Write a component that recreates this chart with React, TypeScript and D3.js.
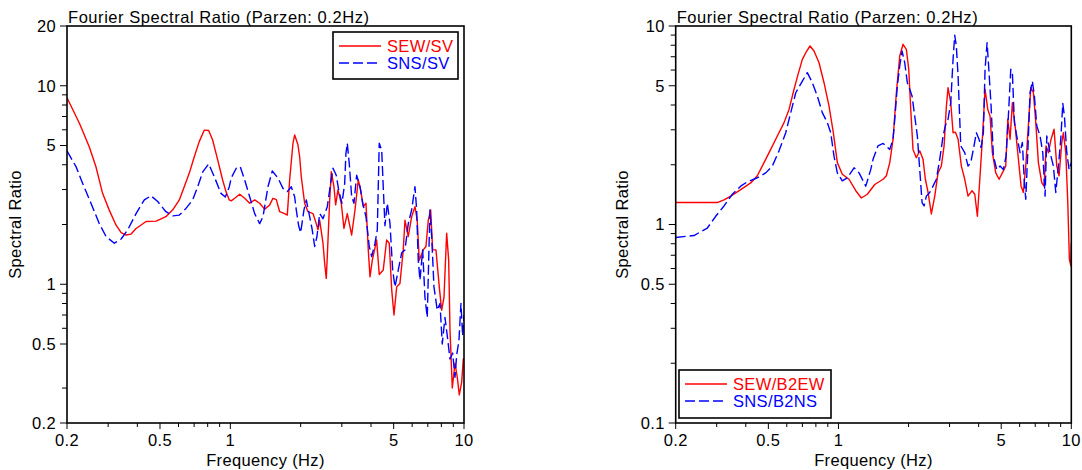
import React from 'react';
import * as d3 from 'd3';

type Pt = [number, number];

const xTickLabels = [0.2, 0.5, 1, 5, 10];
const xMinorTicks = [0.3, 0.4, 0.6, 0.7, 0.8, 0.9, 2, 3, 4, 6, 7, 8, 9];
const leftYLabels = [0.2, 0.5, 1, 5, 10, 20];
const leftYMinor = [0.3, 0.6, 0.7, 0.8, 0.9, 2, 3, 4, 6, 7, 8, 9];
const rightYLabels = [0.1, 0.5, 1, 5, 10];
const rightYMinor = [0.2, 0.3, 0.4, 0.6, 0.7, 0.8, 0.9, 2, 3, 4, 6, 7, 8, 9];

const titleText = 'Fourier Spectral Ratio (Parzen: 0.2Hz)';
const leftNames = ['SEW/SV', 'SNS/SV'];
const rightNames = ['SEW/B2EW', 'SNS/B2NS'];

const leftEW: Pt[] = [[0.2,8.7],[0.226,6.47],[0.249,4.93],[0.266,3.91],[0.284,2.87],[0.303,2.37],[0.324,1.99],[0.341,1.82],[0.358,1.77],[0.376,1.79],[0.395,1.91],[0.436,2.07],[0.481,2.08],[0.53,2.19],[0.567,2.37],[0.605,2.66],[0.635,3.1],[0.667,3.62],[0.701,4.39],[0.736,5.23],[0.774,5.98],[0.808,5.95],[0.84,5.33],[0.883,4.23],[0.927,3.35],[0.958,2.93],[0.99,2.66],[1.009,2.63],[1.044,2.71],[1.097,2.84],[1.152,2.71],[1.21,2.56],[1.271,2.66],[1.335,2.56],[1.403,2.39],[1.474,2.51],[1.522,2.71],[1.573,2.67],[1.626,2.32],[1.708,2.27],[1.753,2.23],[1.794,3.35],[1.854,5.13],[1.885,5.65],[1.947,5.04],[1.98,4.39],[2.012,3.48],[2.08,2.56],[2.149,2.32],[2.258,2.27],[2.332,2.02],[2.372,1.88],[2.412,2.1],[2.492,1.61],[2.534,1.27],[2.574,1.07],[2.6,1.38],[2.662,2.66],[2.704,3.69],[2.776,3.1],[2.823,2.51],[2.888,2.99],[2.984,2.56],[3.064,1.91],[3.166,2.27],[3.306,1.77],[3.416,2.37],[3.528,3.35],[3.612,2.99],[3.706,2.46],[3.806,2.56],[3.894,1.49],[3.96,1.09],[4.05,1.32],[4.228,1.67],[4.338,1.12],[4.512,1.18],[4.666,1.67],[4.788,1.61],[4.904,0.94],[5.016,0.7],[5.152,0.97],[5.32,1.01],[5.496,1.49],[5.59,2.1],[5.774,1.74],[5.97,2.19],[6.168,2.46],[6.308,2.1],[6.434,1.32],[6.692,1.49],[6.874,1.55],[7.032,2.1],[7.2,2.37],[7.344,1.49],[7.586,1.49],[7.838,0.97],[8.024,0.74],[8.21,0.86],[8.43,1.81],[8.598,1.32],[8.71,0.59],[8.91,0.3],[9.15,0.4],[9.36,0.34],[9.546,0.277],[9.772,0.32],[9.93,0.42],[10,0.42]];

const leftNS: Pt[] = [[0.2,4.7],[0.2186,3.91],[0.2334,3.22],[0.2533,2.56],[0.275,2.02],[0.2938,1.74],[0.3188,1.61],[0.341,1.69],[0.3638,1.88],[0.395,2.27],[0.4284,2.66],[0.4576,2.79],[0.4888,2.61],[0.53,2.32],[0.567,2.21],[0.605,2.23],[0.646,2.41],[0.69,2.66],[0.725,3.1],[0.762,3.68],[0.808,4.04],[0.854,3.48],[0.912,2.87],[0.952,2.75],[0.99,3.1],[1.009,3.43],[1.06,3.84],[1.103,3.91],[1.152,3.35],[1.21,2.76],[1.271,2.27],[1.335,2.02],[1.38,2.19],[1.449,3.1],[1.512,3.72],[1.599,3.43],[1.68,3.04],[1.753,2.93],[1.823,3.1],[1.885,2.76],[1.915,2.37],[1.961,1.97],[2.0,1.82],[2.066,2.37],[2.114,2.66],[2.164,2.32],[2.236,1.91],[2.296,1.55],[2.348,1.74],[2.412,2.27],[2.492,2.14],[2.6,2.46],[2.662,2.99],[2.75,3.84],[2.84,3.54],[2.908,2.99],[3.004,2.56],[3.086,3.22],[3.124,4.57],[3.166,5.13],[3.228,4.06],[3.306,2.76],[3.382,2.56],[3.472,3.54],[3.588,3.1],[3.684,2.56],[3.806,2.19],[3.932,1.55],[4.026,1.38],[4.16,1.61],[4.256,1.88],[4.338,5.13],[4.444,4.74],[4.512,3.1],[4.59,1.97],[4.696,2.56],[4.822,2.02],[4.952,1.18],[5.066,0.97],[5.234,1.18],[5.412,1.44],[5.59,1.49],[5.774,2.02],[5.97,2.37],[6.168,3.1],[6.272,2.37],[6.372,1.32],[6.48,1.05],[6.654,1.49],[6.806,0.86],[6.962,0.68],[7.15,2.37],[7.272,1.74],[7.438,0.97],[7.684,0.74],[7.892,0.8],[8.072,0.5],[8.292,0.68],[8.482,0.55],[8.71,0.42],[8.944,0.45],[9.15,0.34],[9.304,0.44],[9.514,0.52],[9.704,0.8],[9.868,0.55],[10,0.7]];

const rightEW: Pt[] = [[0.2,1.29],[0.3018,1.29],[0.3225,1.33],[0.3446,1.39],[0.3804,1.5],[0.42,1.62],[0.4484,1.76],[0.479,2.05],[0.5118,2.39],[0.5464,2.79],[0.5838,3.26],[0.6134,3.8],[0.6446,4.8],[0.6706,5.71],[0.6998,6.79],[0.7308,7.48],[0.755,7.93],[0.7854,7.48],[0.8252,6.53],[0.867,5.18],[0.911,3.95],[0.9506,2.9],[0.989,2.05],[1.039,1.79],[1.11,1.69],[1.187,1.48],[1.254,1.36],[1.331,1.42],[1.432,1.59],[1.555,1.69],[1.606,1.76],[1.661,2.05],[1.716,2.69],[1.773,4.61],[1.833,7.06],[1.894,8.09],[1.957,7.63],[2.004,6.05],[2.044,3.8],[2.09,2.39],[2.16,2.17],[2.234,2.35],[2.308,2.13],[2.362,1.69],[2.426,1.45],[2.506,1.13],[2.592,1.39],[2.678,1.82],[2.766,1.97],[2.842,2.49],[2.908,3.95],[2.956,4.89],[3.036,4.11],[3.106,2.9],[3.178,2.92],[3.264,2.69],[3.372,1.97],[3.486,1.69],[3.602,1.39],[3.748,1.48],[3.85,1.42],[3.95,1.1],[4.056,1.76],[4.15,2.69],[4.262,4.8],[4.378,3.8],[4.478,3.52],[4.582,2.3],[4.738,1.82],[4.896,1.69],[5.058,1.82],[5.23,1.97],[5.336,3.39],[5.458,2.69],[5.584,4.11],[5.736,3.14],[5.89,2.3],[6.086,1.56],[6.224,1.45],[6.374,1.97],[6.54,3.14],[6.698,4.89],[6.874,4.61],[7.038,3.26],[7.222,2.05],[7.47,1.62],[7.642,1.56],[7.794,2.49],[7.974,2.3],[8.188,2.69],[8.434,3.02],[8.662,1.97],[8.862,1.76],[9.102,2.59],[9.248,2.9],[9.47,2.3],[9.658,1.29],[9.812,0.67],[9.95,0.62],[10,0.81]];

const rightNS: Pt[] = [[0.2,0.86],[0.2396,0.88],[0.2734,0.96],[0.297,1.1],[0.3225,1.24],[0.3502,1.42],[0.3804,1.56],[0.406,1.64],[0.4484,1.72],[0.4872,1.82],[0.52,1.97],[0.5556,2.35],[0.5938,2.9],[0.6238,3.66],[0.6556,4.61],[0.6998,5.28],[0.735,5.82],[0.7724,5.18],[0.8114,4.44],[0.8526,3.66],[0.8958,3.26],[0.9264,2.9],[0.957,2.21],[0.989,1.82],[1.039,1.66],[1.092,1.72],[1.167,1.93],[1.226,1.82],[1.31,1.56],[1.376,1.89],[1.408,2.13],[1.479,2.49],[1.555,2.56],[1.661,2.39],[1.716,2.69],[1.745,3.39],[1.79,4.99],[1.833,6.29],[1.875,7.48],[1.926,6.53],[1.976,5.18],[2.024,4.8],[2.07,4.44],[2.126,3.52],[2.182,2.79],[2.234,1.89],[2.286,1.29],[2.332,1.24],[2.386,1.39],[2.466,1.45],[2.548,1.56],[2.634,1.69],[2.722,2.13],[2.814,2.79],[2.878,3.14],[2.956,3.39],[3.036,4.11],[3.106,6.79],[3.158,8.98],[3.208,7.93],[3.264,5.6],[3.352,2.49],[3.486,2.3],[3.602,1.97],[3.7,2.05],[3.822,2.49],[3.91,2.9],[4.016,2.69],[4.096,2.44],[4.192,2.9],[4.262,6.05],[4.348,8.24],[4.434,5.82],[4.524,3.95],[4.628,2.21],[4.786,1.89],[4.944,1.97],[5.108,1.89],[5.246,2.21],[5.368,3.52],[5.496,6.05],[5.584,5.82],[5.696,3.26],[5.832,2.79],[6.026,2.3],[6.164,2.59],[6.288,1.62],[6.374,1.34],[6.502,2.3],[6.652,4.61],[6.804,5.28],[6.942,4.44],[7.108,3.14],[7.344,2.79],[7.542,2.3],[7.716,1.39],[7.848,2.79],[8.108,2.3],[8.376,1.97],[8.578,1.45],[8.802,1.97],[9.012,2.69],[9.194,4.07],[9.34,3.52],[9.564,2.3],[9.784,1.89],[10,2.05]];

const FONT = '"Liberation Sans", Arial, sans-serif';
const RED = '#ff0000';
const BLUE = '#0000ff';
const FS = 16.5;
const LS = 0.35;

interface ChartProps {
  left: number; top: number; width: number; height: number;
  yDomain: [number, number];
  yLabels: number[]; yMinor: number[];
  ew: Pt[]; ns: Pt[]; names: string[];
  legend: { x: number; y: number; w: number; h: number };
  yTitleX: number;
}

function Chart(p: ChartProps) {
  const x = d3.scaleLog().domain([0.2, 10]).range([p.left, p.left + p.width]);
  const y = d3.scaleLog().domain(p.yDomain).range([p.top + p.height, p.top]);
  const line = d3.line<Pt>().x(d => x(d[0])).y(d => y(d[1]));
  const bottom = p.top + p.height;
  const fmt = (v: number) => String(v);
  const lg = p.legend;
  return (
    <g fontFamily={FONT}>
      <defs>
        <clipPath id={`clip${Math.round(p.left)}`}>
          <rect x={p.left} y={p.top} width={p.width} height={p.height} />
        </clipPath>
      </defs>
      <text x={p.left + 1} y={p.top - 3.5} fontSize={16.5} letterSpacing={0.55} fill="#000">{titleText}</text>
      <g clipPath={`url(#clip${Math.round(p.left)})`} fill="none" strokeWidth={1.4} strokeLinejoin="round">
        <path d={line(p.ew) || ''} stroke={RED} />
        <path d={line(p.ns) || ''} stroke={BLUE} strokeDasharray="10,4" />
      </g>
      <rect x={p.left} y={p.top} width={p.width} height={p.height} fill="none" stroke="#000" strokeWidth={1.6} />
      {xTickLabels.map(t => (
        <g key={'xl' + t}>
          <line x1={x(t)} x2={x(t)} y1={bottom} y2={bottom + 6} stroke="#000" strokeWidth={1} />
          <text x={x(t)} y={bottom + 22.5} fontSize={FS} letterSpacing={LS} textAnchor="middle">{fmt(t)}</text>
        </g>
      ))}
      {xMinorTicks.map(t => (
        <line key={'xm' + t} x1={x(t)} x2={x(t)} y1={bottom} y2={bottom + 4} stroke="#000" strokeWidth={1} />
      ))}
      {p.yLabels.map(t => (
        <g key={'yl' + t}>
          <line x1={p.left - 7} x2={p.left} y1={y(t)} y2={y(t)} stroke="#000" strokeWidth={1} />
          <text x={p.left - 11} y={y(t) + 5.8} fontSize={FS} letterSpacing={LS} textAnchor="end">{fmt(t)}</text>
        </g>
      ))}
      {p.yMinor.map(t => (
        <line key={'ym' + t} x1={p.left - 5} x2={p.left} y1={y(t)} y2={y(t)} stroke="#000" strokeWidth={1} />
      ))}
      <text x={p.left + p.width / 2} y={bottom + 43} fontSize={FS} letterSpacing={LS} textAnchor="middle">Frequency (Hz)</text>
      <text transform={`translate(${p.yTitleX},${p.top + p.height / 2}) rotate(-90)`} fontSize={FS} letterSpacing={LS} textAnchor="middle">Spectral Ratio</text>
      <rect x={lg.x} y={lg.y} width={lg.w} height={lg.h} fill="#fff" stroke="#000" strokeWidth={1.6} />
      <line x1={lg.x + 6} x2={lg.x + 48} y1={lg.y + 14} y2={lg.y + 14} stroke={RED} strokeWidth={1.4} />
      <line x1={lg.x + 6} x2={lg.x + 48} y1={lg.y + 31} y2={lg.y + 31} stroke={BLUE} strokeWidth={1.4} strokeDasharray="10,4" />
      <text x={lg.x + 54} y={lg.y + 20} fontSize={FS} letterSpacing={LS} fill={RED}>{p.names[0]}</text>
      <text x={lg.x + 54} y={lg.y + 37} fontSize={FS} letterSpacing={LS} fill={BLUE}>{p.names[1]}</text>
    </g>
  );
}

export default function App() {
  return (
    <svg width={1082} height={470} style={{ position: 'absolute', left: 0, top: 0, background: '#fff' }}>
      <rect x={0} y={0} width={1082} height={470} fill="#fff" />
      <Chart left={67} top={26} width={397} height={397} yDomain={[0.2, 20]}
        yLabels={leftYLabels} yMinor={leftYMinor} ew={leftEW} ns={leftNS} names={leftNames}
        legend={{ x: 333, y: 32, w: 125, h: 47 }} yTitleX={21} />
      <Chart left={675.7} top={26} width={395.6} height={397} yDomain={[0.1, 10]}
        yLabels={rightYLabels} yMinor={rightYMinor} ew={rightEW} ns={rightNS} names={rightNames}
        legend={{ x: 679, y: 370, w: 152, h: 48 }} yTitleX={628} />
    </svg>
  );
}
